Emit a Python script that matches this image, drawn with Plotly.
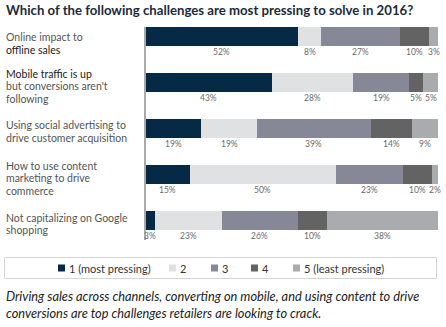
import plotly.graph_objects as go

# ---- data ----
categories = [
    ["Online impact to", "<span style='color:#1b1b1b'>offline sales</span>"],
    ["<span style='color:#1b1b1b'>Mobile traffic is up</span>", "but conversions aren't", "following"],
    ["Using social advertising to", "drive customer acquisition"],
    ["How to use content", "marketing to drive", "commerce"],
    ["Not capitalizing on Google", "shopping"],
]
series_names = ["1 (most pressing)", "2", "3", "4", "5 (least pressing)"]
s1 = [52, 43, 19, 15, 3]
s2 = [8, 28, 19, 50, 23]
s3 = [27, 19, 39, 23, 26]
s4 = [10, 5, 14, 10, 10]
s5 = [3, 5, 9, 2, 38]
series_values = [s1, s2, s3, s4, s5]

title_text = "Which of the following challenges are most pressing to solve in 2016?"
caption_lines = [
    "Driving sales across channels, converting on mobile, and using content to drive",
    "conversions are top challenges retailers are looking to crack.",
]

# ---- style ----
colors = ["#062a45", "#e0e1e3", "#868898", "#636363", "#aaabae"]
FONT = "Lato"
W, H = 446, 327
ML, MR, MT, MB = 146, 8, 27, 87
PW, PH = W - ML - MR, H - MT - MB
label_offsets = [7, 4, 3, 4, 3.5]
line_gap = 12.5

ypos = list(range(len(categories)))

fig = go.Figure()
for name, vals, col in zip(series_names, series_values, colors):
    fig.add_trace(go.Bar(
        x=vals, y=ypos, orientation="h", name=name,
        marker=dict(color=col, line=dict(width=0)),
        width=0.41, showlegend=False, hoverinfo="skip",
    ))

annotations = []
# percentage labels under segments
for i in ypos:
    cum = 0
    for vals in series_values:
        v = vals[i]
        annotations.append(dict(
            x=cum + v / 2, y=i, xref="x", yref="y", text=f"{v}%",
            showarrow=False, yshift=-16, font=dict(family=FONT, size=8.5, color="#6a6a6a"),
        ))
        cum += v

def px_to_paper_x(px):
    return (px - ML) / PW

def px_to_paper_y(py):
    return 1 - (py - MT) / PH

# category labels (left, multi-line)
for i, lines in enumerate(categories):
    n = len(lines)
    for k, ln in enumerate(lines):
        shift = -(label_offsets[i] + (k - (n - 1) / 2) * line_gap)
        annotations.append(dict(
            x=px_to_paper_x(4), y=i, xref="paper", yref="y", text=ln,
            xanchor="left", yanchor="middle", showarrow=False, yshift=shift,
            font=dict(family=FONT, size=10.5, color="#555555"),
        ))

# title
annotations.append(dict(
    x=px_to_paper_x(4), y=px_to_paper_y(10), xref="paper", yref="paper",
    text=f"<b>{title_text}</b>", xanchor="left", yanchor="middle", showarrow=False,
    font=dict(family=FONT, size=13.2, color="#1c2b3a"),
))

# caption
for k, ln in enumerate(caption_lines):
    annotations.append(dict(
        x=px_to_paper_x(4), y=px_to_paper_y(296 + 16.5 * k), xref="paper", yref="paper",
        text=f"<i>{ln}</i>", xanchor="left", yanchor="middle", showarrow=False,
        font=dict(family=FONT, size=12.8, color="#222222"),
    ))

# manual legend
shapes = []
shapes.append(dict(type="rect", xref="paper", yref="paper",
                   x0=px_to_paper_x(4.5), x1=px_to_paper_x(436.5),
                   y0=px_to_paper_y(257.5), y1=px_to_paper_y(278.5),
                   line=dict(color="#d4d4d4", width=1), fillcolor="rgba(0,0,0,0)"))
legend_marker_x = [58, 169, 211, 251, 293]
legend_y = 268
for name, col, mx in zip(series_names, colors, legend_marker_x):
    shapes.append(dict(type="rect", xref="paper", yref="paper",
                       x0=px_to_paper_x(mx), x1=px_to_paper_x(mx + 7),
                       y0=px_to_paper_y(legend_y + 3.5), y1=px_to_paper_y(legend_y - 3.5),
                       line=dict(width=0), fillcolor=col))
    annotations.append(dict(
        x=px_to_paper_x(mx + 9), y=px_to_paper_y(legend_y), xref="paper", yref="paper",
        text=name, xanchor="left", yanchor="middle", showarrow=False,
        font=dict(family=FONT, size=11, color="#333333"),
    ))

fig.update_layout(
    width=W, height=H, barmode="stack", bargap=0,
    margin=dict(l=ML, r=MR, t=MT, b=MB, pad=0),
    paper_bgcolor="white", plot_bgcolor="white",
    xaxis=dict(range=[0, 100], visible=False, fixedrange=True),
    yaxis=dict(range=[4.424, -0.205], showticklabels=False, showgrid=False, zeroline=False,
               showline=True, linecolor="#aaaaaa", linewidth=2, ticks="", fixedrange=True),
    annotations=annotations, shapes=shapes, showlegend=False,
    font=dict(family=FONT),
)
fig.write_html("out.html", config={"displayModeBar": False})
